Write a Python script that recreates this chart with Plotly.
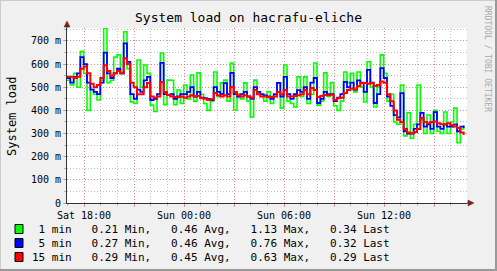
import plotly.graph_objects as go
import pandas as pd

# ---------------- data ----------------
start_time = pd.Timestamp("2023-03-04 16:58:48")
sample_minutes = 12

# system load, in milli units
load_1min = [530, 510, 560, 500, 655, 560, 400, 490, 470, 445,
             530, 755, 520, 530, 630, 640, 560, 740, 580, 437,
             430, 618, 500, 596, 560, 423, 395, 470, 648, 425,
             531, 530, 425, 488, 430, 510, 450, 553, 440, 562,
             470, 430, 400, 440, 566, 460, 519, 531, 440, 605,
             402, 470, 450, 519, 440, 372, 531, 470, 460, 440,
             480, 430, 460, 519, 410, 596, 440, 430, 415, 545,
             460, 545, 430, 470, 605, 423, 440, 562, 460, 520,
             420, 400, 440, 566, 520, 560, 480, 566, 500, 436,
             610, 500, 415, 500, 640, 560, 440, 470, 350, 340,
             510, 290, 390, 280, 340, 510, 360, 300, 380, 300,
             400, 310, 300, 393, 300, 350, 410, 260, 320, 337]
load_5min = [540, 520, 545, 560, 630, 600, 520, 490, 480, 470,
             520, 650, 560, 540, 560, 580, 560, 690, 610, 470,
             450, 490, 480, 530, 545, 445, 450, 470, 605, 470,
             467, 470, 450, 460, 470, 470, 480, 501, 460, 480,
             455, 453, 450, 445, 501, 480, 470, 518, 470, 562,
             470, 460, 470, 480, 460, 450, 501, 480, 470, 465,
             460, 450, 470, 519, 460, 545, 470, 450, 470, 488,
             480, 500, 450, 520, 540, 432, 450, 480, 470, 470,
             440, 455, 470, 523, 500, 520, 490, 530, 520, 480,
             575, 520, 432, 470, 583, 540, 460, 420, 380, 370,
             475, 310, 300, 300, 320, 340, 389, 330, 340, 320,
             393, 330, 320, 340, 330, 330, 340, 310, 330, 324]
load_15min = [545, 545, 540, 545, 580, 590, 560, 515, 500, 510,
              540, 595, 570, 550, 560, 570, 560, 625, 600, 520,
              500, 470, 470, 500, 518, 460, 455, 460, 523, 480,
              467, 460, 458, 458, 460, 455, 460, 465, 460, 462,
              453, 450, 445, 448, 475, 465, 460, 465, 460, 501,
              480, 465, 460, 465, 460, 455, 488, 470, 460, 460,
              458, 458, 460, 480, 470, 488, 460, 460, 462, 465,
              470, 488, 470, 497, 488, 458, 462, 467, 465, 468,
              445, 453, 455, 475, 488, 495, 490, 505, 518, 518,
              515, 518, 505, 510, 525, 520, 470, 440, 400, 360,
              350, 320, 305, 300, 307, 320, 367, 350, 345, 350,
              352, 345, 340, 340, 345, 337, 330, 324, 305, 294]

series_names = ["1 min", "5 min", "15 min"]
series_values = [load_1min, load_5min, load_15min]
series_colors = ["#00FF00", "#0000FF", "#FF0000"]
series_widths = [1.6, 1.8, 2]
stat_min = [0.21, 0.27, 0.29]
stat_avg = [0.46, 0.46, 0.45]
stat_max = [1.13, 0.76, 0.63]
stat_last = [0.34, 0.32, 0.29]

y_tickvals = [0, 100, 200, 300, 400, 500, 600, 700]
y_ticktext = ["0", "100 m", "200 m", "300 m", "400 m", "500 m", "600 m", "700 m"]
x_tickvals = ["2023-03-04 18:00", "2023-03-04 21:00", "2023-03-05 00:00", "2023-03-05 03:00",
              "2023-03-05 06:00", "2023-03-05 09:00", "2023-03-05 12:00", "2023-03-05 15:00"]
x_ticktext = ["Sat 18:00", "", "Sun 00:00", "", "Sun 06:00", "", "Sun 12:00", ""]

title_text = "System load on hacrafu-eliche"
y_title = "System load"
watermark = "RRDTOOL / TOBI OETIKER"

# ---------------- layout geometry (pixels) ----------------
W, H = 497, 271
PL, PR, PT, PB = 67, 467, 28, 203
Y_MAX = 756

def px(x):
    return (x - PL) / (PR - PL)

def py(y):
    return (PB - y) / (PB - PT)

times = pd.date_range(start_time, periods=len(load_15min), freq=f"{sample_minutes}min")
x_start = start_time
x_end = start_time + pd.Timedelta(hours=24)

MONO = "DejaVu Sans Mono"
MGRID = "rgba(225,110,110,0.6)"
GRID = "rgba(140,140,140,0.55)"
DASH = "1px,2px"

fig = go.Figure()
for name, vals, col, w in zip(series_names, series_values, series_colors, series_widths):
    fig.add_trace(go.Scatter(x=times, y=vals, mode="lines", name=name,
                             line=dict(color=col, width=w, shape="hv"),
                             showlegend=False, hoverinfo="skip"))

fig.update_layout(
    width=W, height=H,
    margin=dict(l=PL, r=W - PR, t=PT, b=H - PB),
    paper_bgcolor="#F0F0F0", plot_bgcolor="#FFFFFF",
    font=dict(family=MONO, size=10, color="#000000"),
)
fig.update_xaxes(
    type="date", range=[x_start, x_end],
    tickvals=x_tickvals, ticktext=x_ticktext,
    tickfont=dict(family=MONO, size=10, color="#000"),
    showgrid=True, gridcolor=MGRID, griddash=DASH, gridwidth=1,
    ticks="outside", ticklen=3, tickcolor=MGRID,
    minor=dict(dtick=3600000, showgrid=True, gridcolor=GRID, griddash=DASH,
               gridwidth=1, ticks="outside", ticklen=2, tickcolor=GRID),
    showline=True, linecolor="#333333", linewidth=1, zeroline=False,
)
fig.update_yaxes(
    range=[0, Y_MAX], tickvals=y_tickvals, ticktext=y_ticktext,
    tickfont=dict(family=MONO, size=10, color="#000"),
    showgrid=True, gridcolor=MGRID, griddash=DASH, gridwidth=1,
    ticks="outside", ticklen=3, tickcolor=MGRID,
    minor=dict(dtick=50, showgrid=True, gridcolor=GRID, griddash=DASH,
               gridwidth=1, ticks="outside", ticklen=2, tickcolor=GRID),
    showline=True, linecolor="#333333", linewidth=1, zeroline=False,
)

shapes = []
# frame shading
shapes.append(dict(type="line", xref="paper", yref="paper", x0=px(0), x1=px(W), y0=py(0.5), y1=py(0.5),
                   line=dict(color="#CBCBCB", width=1)))
shapes.append(dict(type="line", xref="paper", yref="paper", x0=px(0.5), x1=px(0.5), y0=py(0), y1=py(H),
                   line=dict(color="#CBCBCB", width=1)))
shapes.append(dict(type="line", xref="paper", yref="paper", x0=px(0), x1=px(W), y0=py(H - 1), y1=py(H - 1),
                   line=dict(color="#999999", width=2)))
shapes.append(dict(type="line", xref="paper", yref="paper", x0=px(W - 1), x1=px(W - 1), y0=py(0), y1=py(H),
                   line=dict(color="#999999", width=2)))
# axis arrows
ARROW = "#7F1F1F"
def path(points):
    return "M " + " L ".join(f"{px(a):.5f},{py(b):.5f}" for a, b in points) + " Z"
shapes.append(dict(type="path", xref="paper", yref="paper",
                   path=path([(PL - 3, 27), (PL + 3, 27), (PL, 21)]),
                   fillcolor=ARROW, line=dict(color=ARROW, width=0.5)))
shapes.append(dict(type="line", xref="paper", yref="paper", x0=px(PL), x1=px(PL), y0=py(PT), y1=py(26),
                   line=dict(color="#333333", width=1)))
shapes.append(dict(type="path", xref="paper", yref="paper",
                   path=path([(PR + 1, PB - 3), (PR + 1, PB + 3), (PR + 7, PB)]),
                   fillcolor=ARROW, line=dict(color=ARROW, width=0.5)))
shapes.append(dict(type="line", xref="paper", yref="paper", x0=px(PR), x1=px(PR + 2), y0=py(PB), y1=py(PB),
                   line=dict(color="#333333", width=1)))

annotations = []
annotations.append(dict(text=title_text, xref="paper", yref="paper", x=px(248), y=py(18),
                        xanchor="center", yanchor="middle", showarrow=False,
                        font=dict(family=MONO, size=13, color="#000")))
annotations.append(dict(text=y_title, xref="paper", yref="paper", x=px(12), y=py(116),
                        xanchor="center", yanchor="middle", showarrow=False, textangle=-90,
                        font=dict(family=MONO, size=12, color="#000")))
annotations.append(dict(text=watermark, xref="paper", yref="paper", x=px(488), y=py(59),
                        xanchor="center", yanchor="middle", showarrow=False, textangle=90,
                        font=dict(family=MONO, size=8, color="#AAAAAA")))

row_y = [229, 243, 257]
for name, col, mn, av, mx, la, ry in zip(series_names, series_colors, stat_min, stat_avg,
                                         stat_max, stat_last, row_y):
    shapes.append(dict(type="rect", xref="paper", yref="paper",
                       x0=px(15), x1=px(23), y0=py(ry - 4.5), y1=py(ry + 4.5),
                       fillcolor=col, line=dict(color="#000000", width=1)))
    line = f"{name:>6}   {mn:.2f} Min,   {av:.2f} Avg,   {mx:.2f} Max,   {la:.2f} Last"
    annotations.append(dict(text=line.replace(" ", "\u00a0"), xref="paper", yref="paper",
                            x=px(30), y=py(ry), xanchor="left", yanchor="middle",
                            showarrow=False, font=dict(family=MONO, size=11, color="#000")))

fig.update_layout(shapes=shapes, annotations=annotations)
fig.write_html("out.html")
